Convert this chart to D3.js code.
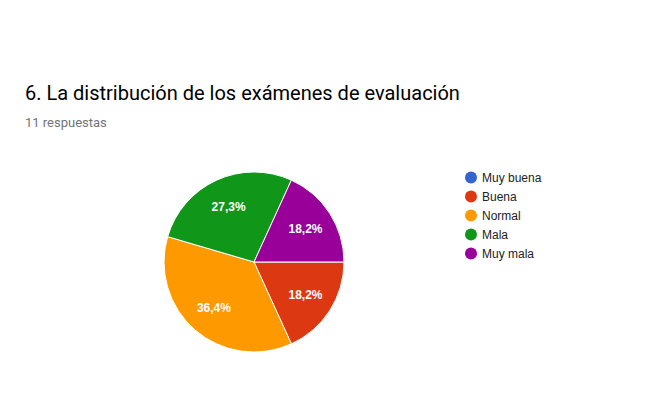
<!DOCTYPE html>
<html>
<head>
<meta charset="utf-8">
<script src="https://cdn.jsdelivr.net/npm/d3@7"></script>
<style>
  html, body { margin: 0; padding: 0; background: #fff; }
  svg { display: block; }
</style>
</head>
<body>
<svg id="chart" width="655" height="416"></svg>
<script>
const title = "6. La distribución de los exámenes de evaluación";
const subtitle = "11 respuestas";
const categories = ["Muy buena", "Buena", "Normal", "Mala", "Muy mala"];
const counts = [0, 2, 4, 3, 2];
const colors = ["#3366cc", "#dc3912", "#ff9900", "#109618", "#990099"];

const svg = d3.select("#chart");
const W = 655, H = 416;
svg.append("rect").attr("width", W).attr("height", H).attr("fill", "#fff");

svg.append("text")
  .attr("x", 25).attr("y", 100)
  .attr("font-family", "Roboto, Arial, sans-serif")
  .attr("font-size", 20)
  .attr("fill", "#000")
  .text(title);

svg.append("text")
  .attr("x", 25).attr("y", 127)
  .attr("font-family", "Roboto, Arial, sans-serif")
  .attr("font-size", 13)
  .attr("fill", "#70757a")
  .text(subtitle);

const cx = 254, cy = 262, R = 90;
const total = d3.sum(counts);
const data = categories.map((c, i) => ({ cat: c, value: counts[i], color: colors[i] }));

const pie = d3.pie().value(d => d.value).sort(null)
  .startAngle(Math.PI / 2).endAngle(Math.PI / 2 + 2 * Math.PI);
const arcs = pie(data);
const arc = d3.arc().innerRadius(0).outerRadius(R);
const labelArc = d3.arc().innerRadius(R * 0.68).outerRadius(R * 0.68);

const g = svg.append("g").attr("transform", `translate(${cx},${cy})`);
g.selectAll("path").data(arcs.filter(d => d.data.value > 0)).join("path")
  .attr("d", arc)
  .attr("fill", d => d.data.color)
  .attr("stroke", "#fff")
  .attr("stroke-width", 1);

const fmt = v => (Math.round(v * 1000) / 10).toFixed(1).replace(".", ",") + "%";
g.selectAll("text").data(arcs.filter(d => d.data.value > 0)).join("text")
  .attr("transform", d => `translate(${labelArc.centroid(d)})`)
  .attr("text-anchor", "middle")
  .attr("dy", "0.35em")
  .attr("font-family", "Arial, Liberation Sans, sans-serif")
  .attr("font-size", 12)
  .attr("font-weight", "bold")
  .attr("fill", "#fff")
  .text(d => fmt(d.data.value / total));

const legendY = d3.scaleBand().domain(categories).range([168, 263]);
const lg = svg.append("g");
const items = lg.selectAll("g").data(data).join("g")
  .attr("transform", d => `translate(471,${legendY(d.cat) + legendY.bandwidth() / 2})`);
items.append("circle").attr("r", 6).attr("fill", d => d.color);
items.append("text")
  .attr("x", 11).attr("dy", "0.35em")
  .attr("font-family", "Arial, Liberation Sans, sans-serif")
  .attr("font-size", 12)
  .attr("fill", "#222")
  .text(d => d.cat);
</script>
</body>
</html>
